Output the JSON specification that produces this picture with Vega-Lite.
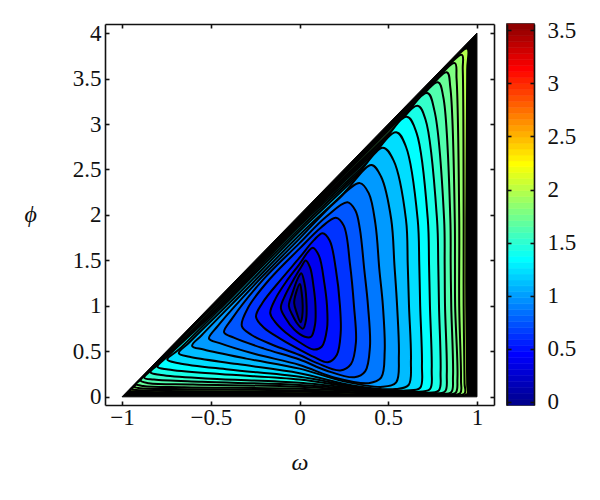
{"$schema":"https://vega.github.io/schema/vega-lite/v6.json","background":"white","padding":{"left":24,"top":18,"right":0,"bottom":0},"spacing":10,"config":{"view":{"stroke":null},"axis":{"labelFont":"Liberation Serif","labelFontSize":23,"labelColor":"#111","titleFont":"Liberation Serif","titleFontSize":24,"titleFontStyle":"italic","titleFontWeight":"normal","titleColor":"#111","domainColor":"#111","domainWidth":1.6,"tickColor":"#111","tickWidth":1.6,"tickSize":-4,"grid":false}},"hconcat":[{"width":389,"height":381,"resolve":{"axis":{"x":"independent","y":"independent"}},"layer":[{"data":{"values":[{"omega":-1,"phi":0},{"omega":1,"phi":0},{"omega":1,"phi":4},{"omega":-1,"phi":0}]},"mark":{"type":"line","fill":"black","stroke":"black","strokeWidth":1},"encoding":{"x":{"field":"omega","type":"quantitative","scale":{"domain":[-1.096,1.096],"nice":false,"zero":false},"axis":{"title":"ω","titlePadding":21,"values":[-1,-0.5,0,0.5,1],"format":"~g","labelPadding":5,"orient":"bottom"}},"y":{"field":"phi","type":"quantitative","scale":{"domain":[-0.09,4.1],"nice":false,"zero":false},"axis":{"title":"ϕ","titleAngle":0,"titlePadding":42,"titleAlign":"center","titleBaseline":"middle","values":[0,0.5,1,1.5,2,2.5,3,3.5,4],"format":"~g","labelPadding":8,"orient":"left"}},"order":{"value":null}}},{"data":{"values":[
{"level":1.95,"omega":-0.955,"phi":0.07},{"level":1.95,"omega":-0.93,"phi":0.12},{"level":1.95,"omega":-0.78,"phi":0.41},{"level":1.95,"omega":0,"phi":1.97},{"level":1.95,"omega":0.75,"phi":3.46},{"level":1.95,"omega":0.945,"phi":3.83},{"level":1.95,"omega":0.945,"phi":3.6},{"level":1.95,"omega":0.94,"phi":1.95},{"level":1.95,"omega":0.94,"phi":1},{"level":1.95,"omega":0.945,"phi":0.13},{"level":1.95,"omega":0.945,"phi":0.03},{"level":1.95,"omega":0.8,"phi":0.018},{"level":1.95,"omega":0.5,"phi":0.02},{"level":1.95,"omega":0,"phi":0.04},{"level":1.95,"omega":-0.78,"phi":0.05},{"level":1.95,"omega":-0.93,"phi":0.06},
{"level":1.84,"omega":-0.945,"phi":0.085},{"level":1.84,"omega":-0.91,"phi":0.15},{"level":1.84,"omega":-0.75,"phi":0.47},{"level":1.84,"omega":0,"phi":1.96},{"level":1.84,"omega":0.7,"phi":3.34},{"level":1.84,"omega":0.915,"phi":3.76},{"level":1.84,"omega":0.92,"phi":3.6},{"level":1.84,"omega":0.925,"phi":1.95},{"level":1.84,"omega":0.925,"phi":1},{"level":1.84,"omega":0.93,"phi":0.15},{"level":1.84,"omega":0.93,"phi":0.035},{"level":1.84,"omega":0.8,"phi":0.022},{"level":1.84,"omega":0.6,"phi":0.028},{"level":1.84,"omega":0,"phi":0.055},{"level":1.84,"omega":-0.75,"phi":0.065},{"level":1.84,"omega":-0.92,"phi":0.075},
{"level":1.76,"omega":-0.93,"phi":0.11},{"level":1.76,"omega":-0.9,"phi":0.17},{"level":1.76,"omega":-0.7,"phi":0.57},{"level":1.76,"omega":0,"phi":1.95},{"level":1.76,"omega":0.65,"phi":3.22},{"level":1.76,"omega":0.875,"phi":3.67},{"level":1.76,"omega":0.885,"phi":3.5},{"level":1.76,"omega":0.9,"phi":1.95},{"level":1.76,"omega":0.9,"phi":1},{"level":1.76,"omega":0.91,"phi":0.18},{"level":1.76,"omega":0.905,"phi":0.04},{"level":1.76,"omega":0.8,"phi":0.027},{"level":1.76,"omega":0.6,"phi":0.033},{"level":1.76,"omega":0,"phi":0.07},{"level":1.76,"omega":-0.7,"phi":0.085},{"level":1.76,"omega":-0.9,"phi":0.095},
{"level":1.68,"omega":-0.92,"phi":0.14},{"level":1.68,"omega":-0.88,"phi":0.21},{"level":1.68,"omega":-0.65,"phi":0.67},{"level":1.68,"omega":0,"phi":1.935},{"level":1.68,"omega":0.6,"phi":3.09},{"level":1.68,"omega":0.83,"phi":3.57},{"level":1.68,"omega":0.85,"phi":3.4},{"level":1.68,"omega":0.875,"phi":1.95},{"level":1.68,"omega":0.876,"phi":1.45},{"level":1.68,"omega":0.877,"phi":1},{"level":1.68,"omega":0.89,"phi":0.2},{"level":1.68,"omega":0.88,"phi":0.045},{"level":1.68,"omega":0.8,"phi":0.03},{"level":1.68,"omega":0.6,"phi":0.04},{"level":1.68,"omega":0,"phi":0.09},{"level":1.68,"omega":-0.65,"phi":0.105},{"level":1.68,"omega":-0.88,"phi":0.12},
{"level":1.6,"omega":-0.895,"phi":0.18},{"level":1.6,"omega":-0.85,"phi":0.27},{"level":1.6,"omega":-0.6,"phi":0.77},{"level":1.6,"omega":0,"phi":1.92},{"level":1.6,"omega":0.55,"phi":2.98},{"level":1.6,"omega":0.78,"phi":3.46},{"level":1.6,"omega":0.81,"phi":3.3},{"level":1.6,"omega":0.85,"phi":1.95},{"level":1.6,"omega":0.852,"phi":1.45},{"level":1.6,"omega":0.855,"phi":1},{"level":1.6,"omega":0.865,"phi":0.22},{"level":1.6,"omega":0.855,"phi":0.05},{"level":1.6,"omega":0.78,"phi":0.035},{"level":1.6,"omega":0.55,"phi":0.045},{"level":1.6,"omega":0,"phi":0.11},{"level":1.6,"omega":-0.6,"phi":0.135},{"level":1.6,"omega":-0.85,"phi":0.15},
{"level":1.5,"omega":-0.875,"phi":0.21},{"level":1.5,"omega":-0.82,"phi":0.32},{"level":1.5,"omega":-0.55,"phi":0.84},{"level":1.5,"omega":0,"phi":1.915},{"level":1.5,"omega":0.5,"phi":2.86},{"level":1.5,"omega":0.72,"phi":3.34},{"level":1.5,"omega":0.76,"phi":3.15},{"level":1.5,"omega":0.815,"phi":1.95},{"level":1.5,"omega":0.818,"phi":1.45},{"level":1.5,"omega":0.82,"phi":1},{"level":1.5,"omega":0.83,"phi":0.25},{"level":1.5,"omega":0.82,"phi":0.06},{"level":1.5,"omega":0.74,"phi":0.04},{"level":1.5,"omega":0.5,"phi":0.055},{"level":1.5,"omega":0,"phi":0.13},{"level":1.5,"omega":-0.55,"phi":0.165},{"level":1.5,"omega":-0.82,"phi":0.19},
{"level":1.4,"omega":-0.84,"phi":0.27},{"level":1.4,"omega":-0.78,"phi":0.38},{"level":1.4,"omega":-0.5,"phi":0.91},{"level":1.4,"omega":0,"phi":1.9},{"level":1.4,"omega":0.45,"phi":2.74},{"level":1.4,"omega":0.665,"phi":3.2},{"level":1.4,"omega":0.71,"phi":3.05},{"level":1.4,"omega":0.775,"phi":1.95},{"level":1.4,"omega":0.782,"phi":1.45},{"level":1.4,"omega":0.786,"phi":1},{"level":1.4,"omega":0.795,"phi":0.27},{"level":1.4,"omega":0.785,"phi":0.07},{"level":1.4,"omega":0.7,"phi":0.045},{"level":1.4,"omega":0.45,"phi":0.065},{"level":1.4,"omega":0,"phi":0.155},{"level":1.4,"omega":-0.5,"phi":0.2},{"level":1.4,"omega":-0.78,"phi":0.24},
{"level":1.32,"omega":-0.8,"phi":0.33},{"level":1.32,"omega":-0.74,"phi":0.45},{"level":1.32,"omega":-0.45,"phi":0.985},{"level":1.32,"omega":0,"phi":1.88},{"level":1.32,"omega":0.4,"phi":2.62},{"level":1.32,"omega":0.605,"phi":3.08},{"level":1.32,"omega":0.66,"phi":2.9},{"level":1.32,"omega":0.723,"phi":1.95},{"level":1.32,"omega":0.73,"phi":1.45},{"level":1.32,"omega":0.735,"phi":1},{"level":1.32,"omega":0.745,"phi":0.3},{"level":1.32,"omega":0.735,"phi":0.085},{"level":1.32,"omega":0.65,"phi":0.055},{"level":1.32,"omega":0.4,"phi":0.08},{"level":1.32,"omega":0,"phi":0.19},{"level":1.32,"omega":-0.45,"phi":0.25},{"level":1.32,"omega":-0.74,"phi":0.3},
{"level":1.2,"omega":-0.745,"phi":0.41},{"level":1.2,"omega":-0.68,"phi":0.52},{"level":1.2,"omega":-0.4,"phi":1.06},{"level":1.2,"omega":0,"phi":1.85},{"level":1.2,"omega":0.35,"phi":2.5},{"level":1.2,"omega":0.545,"phi":2.91},{"level":1.2,"omega":0.6,"phi":2.75},{"level":1.2,"omega":0.666,"phi":1.95},{"level":1.2,"omega":0.675,"phi":1.45},{"level":1.2,"omega":0.68,"phi":1},{"level":1.2,"omega":0.69,"phi":0.35},{"level":1.2,"omega":0.68,"phi":0.1},{"level":1.2,"omega":0.6,"phi":0.07},{"level":1.2,"omega":0.35,"phi":0.1},{"level":1.2,"omega":0,"phi":0.22},{"level":1.2,"omega":-0.4,"phi":0.3},{"level":1.2,"omega":-0.68,"phi":0.37},
{"level":1.08,"omega":-0.68,"phi":0.48},{"level":1.08,"omega":-0.62,"phi":0.6},{"level":1.08,"omega":-0.35,"phi":1.12},{"level":1.08,"omega":0,"phi":1.82},{"level":1.08,"omega":0.3,"phi":2.38},{"level":1.08,"omega":0.47,"phi":2.74},{"level":1.08,"omega":0.53,"phi":2.6},{"level":1.08,"omega":0.6,"phi":1.95},{"level":1.08,"omega":0.61,"phi":1.45},{"level":1.08,"omega":0.617,"phi":1},{"level":1.08,"omega":0.628,"phi":0.4},{"level":1.08,"omega":0.615,"phi":0.13},{"level":1.08,"omega":0.54,"phi":0.085},{"level":1.08,"omega":0.3,"phi":0.125},{"level":1.08,"omega":0,"phi":0.26},{"level":1.08,"omega":-0.35,"phi":0.36},{"level":1.08,"omega":-0.62,"phi":0.44},
{"level":0.96,"omega":-0.605,"phi":0.56},{"level":0.96,"omega":-0.55,"phi":0.68},{"level":0.96,"omega":-0.3,"phi":1.18},{"level":0.96,"omega":0,"phi":1.78},{"level":0.96,"omega":0.25,"phi":2.24},{"level":0.96,"omega":0.405,"phi":2.55},{"level":0.96,"omega":0.46,"phi":2.42},{"level":0.96,"omega":0.517,"phi":1.95},{"level":0.96,"omega":0.535,"phi":1.45},{"level":0.96,"omega":0.55,"phi":1},{"level":0.96,"omega":0.56,"phi":0.45},{"level":0.96,"omega":0.545,"phi":0.16},{"level":0.96,"omega":0.47,"phi":0.11},{"level":0.96,"omega":0.25,"phi":0.17},{"level":0.96,"omega":0,"phi":0.31},{"level":0.96,"omega":-0.3,"phi":0.42},{"level":0.96,"omega":-0.54,"phi":0.52},
{"level":0.84,"omega":-0.51,"phi":0.64},{"level":0.84,"omega":-0.46,"phi":0.78},{"level":0.84,"omega":-0.25,"phi":1.24},{"level":0.84,"omega":0,"phi":1.74},{"level":0.84,"omega":0.2,"phi":2.14},{"level":0.84,"omega":0.34,"phi":2.35},{"level":0.84,"omega":0.39,"phi":2.24},{"level":0.84,"omega":0.428,"phi":1.9},{"level":0.84,"omega":0.45,"phi":1.4},{"level":0.84,"omega":0.47,"phi":1},{"level":0.84,"omega":0.48,"phi":0.5},{"level":0.84,"omega":0.46,"phi":0.21},{"level":0.84,"omega":0.39,"phi":0.15},{"level":0.84,"omega":0.2,"phi":0.21},{"level":0.84,"omega":0,"phi":0.35},{"level":0.84,"omega":-0.25,"phi":0.47},{"level":0.84,"omega":-0.45,"phi":0.59},
{"level":0.72,"omega":-0.425,"phi":0.71},{"level":0.72,"omega":-0.38,"phi":0.86},{"level":0.72,"omega":-0.2,"phi":1.3},{"level":0.72,"omega":0,"phi":1.69},{"level":0.72,"omega":0.15,"phi":1.98},{"level":0.72,"omega":0.27,"phi":2.14},{"level":0.72,"omega":0.315,"phi":2.05},{"level":0.72,"omega":0.34,"phi":1.85},{"level":0.72,"omega":0.365,"phi":1.4},{"level":0.72,"omega":0.386,"phi":1},{"level":0.72,"omega":0.397,"phi":0.55},{"level":0.72,"omega":0.37,"phi":0.28},{"level":0.72,"omega":0.31,"phi":0.215},{"level":0.72,"omega":0.15,"phi":0.29},{"level":0.72,"omega":0,"phi":0.41},{"level":0.72,"omega":-0.2,"phi":0.53},{"level":0.72,"omega":-0.37,"phi":0.65},
{"level":0.6,"omega":-0.325,"phi":0.78},{"level":0.6,"omega":-0.29,"phi":0.98},{"level":0.6,"omega":-0.17,"phi":1.29},{"level":0.6,"omega":0,"phi":1.63},{"level":0.6,"omega":0.12,"phi":1.86},{"level":0.6,"omega":0.205,"phi":1.97},{"level":0.6,"omega":0.25,"phi":1.88},{"level":0.6,"omega":0.285,"phi":1.45},{"level":0.6,"omega":0.307,"phi":1},{"level":0.6,"omega":0.318,"phi":0.6},{"level":0.6,"omega":0.29,"phi":0.36},{"level":0.6,"omega":0.23,"phi":0.29},{"level":0.6,"omega":0.1,"phi":0.37},{"level":0.6,"omega":0,"phi":0.46},{"level":0.6,"omega":-0.15,"phi":0.57},{"level":0.6,"omega":-0.27,"phi":0.68},
{"level":0.48,"omega":-0.245,"phi":0.88},{"level":0.48,"omega":-0.21,"phi":1.03},{"level":0.48,"omega":-0.1,"phi":1.3},{"level":0.48,"omega":0,"phi":1.53},{"level":0.48,"omega":0.08,"phi":1.72},{"level":0.48,"omega":0.13,"phi":1.8},{"level":0.48,"omega":0.17,"phi":1.72},{"level":0.48,"omega":0.205,"phi":1.4},{"level":0.48,"omega":0.228,"phi":1},{"level":0.48,"omega":0.232,"phi":0.7},{"level":0.48,"omega":0.21,"phi":0.46},{"level":0.48,"omega":0.16,"phi":0.38},{"level":0.48,"omega":0.08,"phi":0.44},{"level":0.48,"omega":0,"phi":0.52},{"level":0.48,"omega":-0.1,"phi":0.63},{"level":0.48,"omega":-0.2,"phi":0.76},
{"level":0.36,"omega":-0.165,"phi":0.92},{"level":0.36,"omega":-0.135,"phi":1.08},{"level":0.36,"omega":-0.07,"phi":1.28},{"level":0.36,"omega":0,"phi":1.46},{"level":0.36,"omega":0.05,"phi":1.6},{"level":0.36,"omega":0.075,"phi":1.64},{"level":0.36,"omega":0.11,"phi":1.55},{"level":0.36,"omega":0.14,"phi":1.25},{"level":0.36,"omega":0.155,"phi":1},{"level":0.36,"omega":0.155,"phi":0.75},{"level":0.36,"omega":0.125,"phi":0.55},{"level":0.36,"omega":0.08,"phi":0.52},{"level":0.36,"omega":0,"phi":0.6},{"level":0.36,"omega":-0.08,"phi":0.71},{"level":0.36,"omega":-0.14,"phi":0.83},
{"level":0.24,"omega":-0.105,"phi":0.98},{"level":0.24,"omega":-0.08,"phi":1.12},{"level":0.24,"omega":-0.03,"phi":1.3},{"level":0.24,"omega":0.01,"phi":1.43},{"level":0.24,"omega":0.035,"phi":1.5},{"level":0.24,"omega":0.06,"phi":1.42},{"level":0.24,"omega":0.08,"phi":1.2},{"level":0.24,"omega":0.09,"phi":1},{"level":0.24,"omega":0.088,"phi":0.8},{"level":0.24,"omega":0.065,"phi":0.66},{"level":0.24,"omega":0.03,"phi":0.66},{"level":0.24,"omega":-0.03,"phi":0.74},{"level":0.24,"omega":-0.08,"phi":0.87},
{"level":0.12,"omega":-0.06,"phi":1},{"level":0.12,"omega":-0.04,"phi":1.14},{"level":0.12,"omega":-0.01,"phi":1.3},{"level":0.12,"omega":0.01,"phi":1.36},{"level":0.12,"omega":0.028,"phi":1.25},{"level":0.12,"omega":0.04,"phi":1},{"level":0.12,"omega":0.037,"phi":0.85},{"level":0.12,"omega":0.02,"phi":0.75},{"level":0.12,"omega":-0.01,"phi":0.8},{"level":0.12,"omega":-0.04,"phi":0.9},
{"level":0,"omega":-0.03,"phi":1.03},{"level":0,"omega":-0.02,"phi":1.14},{"level":0,"omega":0.002,"phi":1.24},{"level":0,"omega":0.012,"phi":1.15},{"level":0,"omega":0.018,"phi":1},{"level":0,"omega":0.015,"phi":0.88},{"level":0,"omega":0.006,"phi":0.82},{"level":0,"omega":-0.015,"phi":0.92}
]},"mark":{"type":"line","interpolate":"catmull-rom-closed","stroke":"black","strokeWidth":2},"encoding":{"x":{"field":"omega","type":"quantitative","axis":{"title":null,"orient":"top","labels":false,"values":[-1,-0.5,0,0.5,1]}},"y":{"field":"phi","type":"quantitative","axis":{"title":null,"orient":"right","labels":false,"values":[0,0.5,1,1.5,2,2.5,3,3.5,4]}},"fill":{"field":"level","type":"quantitative","legend":null,"scale":{"domain":[-0.03,0.419,1.316,2.214,3.11,3.56],"range":["#00008f","#0000ff","#00ffff","#ffff00","#ff0000","#800000"],"interpolate":"rgb"}},"order":{"value":null}}}]},{"width":27,"height":381,"view":{"stroke":"#111","strokeWidth":1.6},"data":{"values":[{"a":-0.03,"b":0.026},{"a":0.026,"b":0.082},{"a":0.082,"b":0.138},{"a":0.138,"b":0.194},{"a":0.194,"b":0.251},{"a":0.251,"b":0.307},{"a":0.307,"b":0.363},{"a":0.363,"b":0.419},{"a":0.419,"b":0.475},{"a":0.475,"b":0.531},{"a":0.531,"b":0.587},{"a":0.587,"b":0.643},{"a":0.643,"b":0.699},{"a":0.699,"b":0.755},{"a":0.755,"b":0.812},{"a":0.812,"b":0.868},{"a":0.868,"b":0.924},{"a":0.924,"b":0.98},{"a":0.98,"b":1.036},{"a":1.036,"b":1.092},{"a":1.092,"b":1.148},{"a":1.148,"b":1.204},{"a":1.204,"b":1.26},{"a":1.26,"b":1.316},{"a":1.316,"b":1.373},{"a":1.373,"b":1.429},{"a":1.429,"b":1.485},{"a":1.485,"b":1.541},{"a":1.541,"b":1.597},{"a":1.597,"b":1.653},{"a":1.653,"b":1.709},{"a":1.709,"b":1.765},{"a":1.765,"b":1.821},{"a":1.821,"b":1.877},{"a":1.877,"b":1.934},{"a":1.934,"b":1.99},{"a":1.99,"b":2.046},{"a":2.046,"b":2.102},{"a":2.102,"b":2.158},{"a":2.158,"b":2.214},{"a":2.214,"b":2.27},{"a":2.27,"b":2.326},{"a":2.326,"b":2.382},{"a":2.382,"b":2.438},{"a":2.438,"b":2.495},{"a":2.495,"b":2.551},{"a":2.551,"b":2.607},{"a":2.607,"b":2.663},{"a":2.663,"b":2.719},{"a":2.719,"b":2.775},{"a":2.775,"b":2.831},{"a":2.831,"b":2.887},{"a":2.887,"b":2.943},{"a":2.943,"b":2.999},{"a":2.999,"b":3.056},{"a":3.056,"b":3.112},{"a":3.112,"b":3.168},{"a":3.168,"b":3.224},{"a":3.224,"b":3.28},{"a":3.28,"b":3.336},{"a":3.336,"b":3.392},{"a":3.392,"b":3.448},{"a":3.448,"b":3.504},{"a":3.504,"b":3.56}]},"resolve":{"axis":{"y":"independent"}},"layer":[{"mark":{"type":"rect","strokeWidth":0.6},"encoding":{"x":{"datum":0,"scale":{"domain":[0,1]},"axis":null},"x2":{"datum":1},"y":{"field":"a","type":"quantitative","scale":{"domain":[-0.03,3.56],"nice":false,"zero":false},"axis":{"title":null,"orient":"right","values":[0,0.5,1,1.5,2,2.5,3,3.5],"format":"~g","labelPadding":17,"zindex":1}},"y2":{"field":"b"},"fill":{"field":"a","type":"quantitative","legend":null,"scale":{"domain":[-0.03,0.419,1.316,2.214,3.11,3.56],"range":["#00008f","#0000ff","#00ffff","#ffff00","#ff0000","#800000"],"interpolate":"rgb"}},"stroke":{"field":"a","type":"quantitative","legend":null,"scale":{"domain":[-0.03,0.419,1.316,2.214,3.11,3.56],"range":["#00008f","#0000ff","#00ffff","#ffff00","#ff0000","#800000"],"interpolate":"rgb"}}}},{"mark":{"type":"rect","opacity":0},"encoding":{"x":{"datum":0,"axis":null},"x2":{"datum":1},"y":{"field":"a","type":"quantitative","axis":{"title":null,"orient":"left","labels":false,"values":[0,0.5,1,1.5,2,2.5,3,3.5],"zindex":1}},"y2":{"field":"b"}}}]}]}
